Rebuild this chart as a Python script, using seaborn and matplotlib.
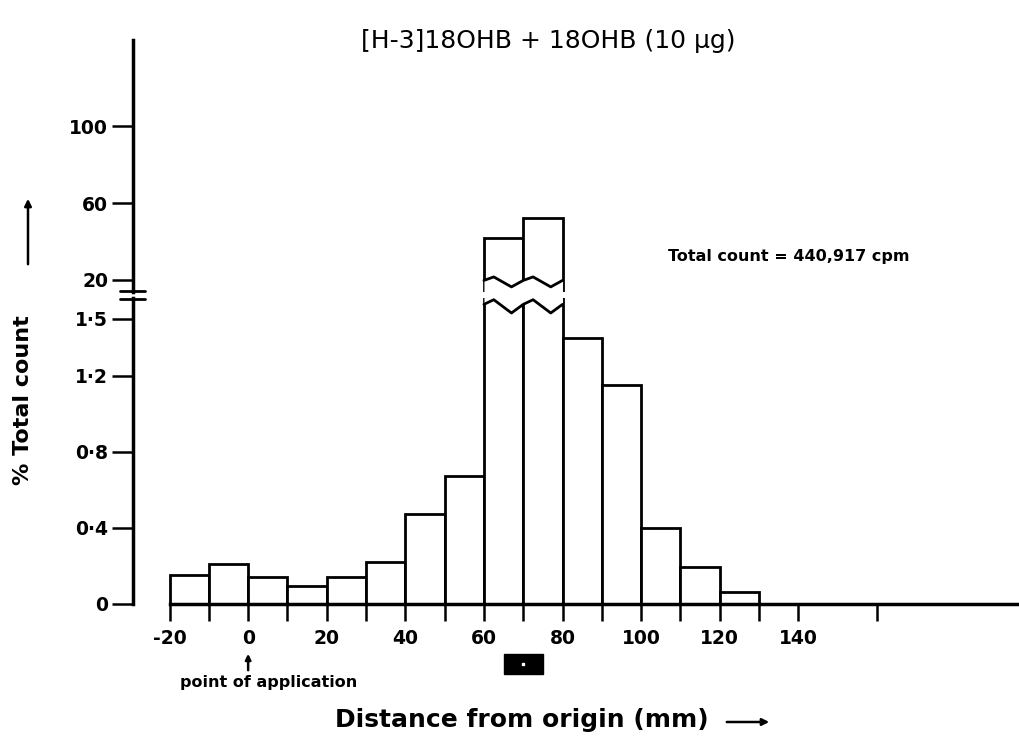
import numpy as np
import pandas as pd
import matplotlib
matplotlib.use("Agg")
import matplotlib.pyplot as plt
import matplotlib.transforms as mtransforms
from matplotlib.patches import Rectangle, FancyArrowPatch
from matplotlib.lines import Line2D
import seaborn as sns

# ---------------- data ----------------
bin_left = [-20, -10, 0, 10, 20, 30, 40, 50, 60, 70, 80, 90, 100, 110, 120]
pct_total = [0.15, 0.21, 0.14, 0.09, 0.14, 0.22, 0.47, 0.67,
             41.7, 52.5, 1.40, 1.15, 0.40, 0.19, 0.06]
bin_width = 10
broken_bins = [60, 70]

x_ticks = [-20, -10, 0, 10, 20, 30, 40, 50, 60, 70, 80, 90, 100, 110, 120, 130, 140, 160]
x_tick_labels = ["-20", "", "0", "", "20", "", "40", "", "60", "", "80", "",
                 "100", "", "120", "", "140", ""]
y_low_ticks = [0, 0.4, 0.8, 1.2, 1.5]
y_low_labels = ["0", "0·4", "0·8", "1·2", "1·5"]
y_up_ticks = [20, 60, 100]
y_up_labels = ["20", "60", "100"]

title = "[H-3]18OHB + 18OHB (10 µg)"
count_note = "Total count = 440,917 cpm"
x_label = "Distance from origin (mm)"
y_label = "% Total count"
origin_note = "point of application"
reference_spot = (65, 75)   # mm, black marker under axis

# ---------------- style ----------------
sns.set_theme(style="ticks")
plt.rcParams["font.family"] = ["DejaVu Sans"]
for k in ("text.color", "axes.labelcolor", "xtick.color", "ytick.color", "axes.edgecolor"):
    plt.rcParams[k] = "black"

W, H = 1020, 737
fig = plt.figure(figsize=(W / 100, H / 100), dpi=100)

xlim = (-29.3, 196.4)
ax_low = fig.add_axes([133 / W, 133.5 / H, 1 - 133 / W, (603.5 - 298) / H])
ax_up = fig.add_axes([133 / W, (H - 291.7) / H, 1 - 133 / W, (291.7 - 40) / H])

df = pd.DataFrame({"mm": [b + bin_width / 2 for b in bin_left], "pct": pct_total})
edges = bin_left + [bin_left[-1] + bin_width]

for ax in (ax_low, ax_up):
    sns.histplot(data=df, x="mm", weights="pct", bins=edges, stat="count",
                 ax=ax, color="white", edgecolor="black", linewidth=2,
                 alpha=1, zorder=2)
    ax.set_xlim(*xlim)
    ax.set_xlabel("")
    ax.set_ylabel("")
    ax.set_facecolor("white")
    for s in ("top", "right"):
        ax.spines[s].set_visible(False)
    ax.spines["left"].set_linewidth(2.5)
    ax.spines["left"].set_color("black")

ax_low.set_ylim(0, 1.61)
ax_up.set_ylim(13.9, 145)

# zig-zag break on the truncated bars
frac = np.array([0, 0.25, 0.7, 1.0])
wob = np.array([0.3, 1, -1, 0.3])
xs = np.concatenate([b + frac * bin_width for b in broken_bins])
wobs = np.concatenate([wob for _ in broken_bins])
y_lo = 1.566 + 0.035 * wobs
ax_low.fill_between(xs, y_lo, 1.8, color="white", zorder=3, lw=0)
ax_low.plot(xs, y_lo, color="black", lw=2, zorder=4)
y_hi = 19.0 + 2.6 * wobs
ax_up.fill_between(xs, 0, y_hi, color="white", zorder=3, lw=0)
ax_up.plot(xs, y_hi, color="black", lw=2, zorder=4)

# axes / ticks
tick_font = dict(fontsize=13.5, fontweight="bold")
ax_low.spines["bottom"].set_bounds(-20, xlim[1])
ax_low.spines["bottom"].set_linewidth(2.5)
ax_low.spines["bottom"].set_color("black")
ax_low.set_xticks(x_ticks)
ax_low.set_xticklabels(x_tick_labels, **tick_font)
ax_low.tick_params(axis="x", direction="out", length=12, width=1.8, pad=6, colors="black")
ax_low.set_yticks(y_low_ticks)
ax_low.set_yticklabels(y_low_labels, **tick_font)
ax_low.tick_params(axis="y", direction="out", length=15, width=1.8, pad=3, colors="black")

ax_up.spines["bottom"].set_visible(False)
ax_up.tick_params(axis="x", bottom=False, labelbottom=False)
ax_up.set_yticks(y_up_ticks)
ax_up.set_yticklabels(y_up_labels, **tick_font)
ax_up.tick_params(axis="y", direction="out", length=15, width=1.8, pad=3, colors="black")
ax_up.patch.set_alpha(0)

# break marks on the y axis
for yp in (290.5, 298.5):
    fig.add_artist(Line2D([120 / W, 145 / W], [1 - yp / H] * 2,
                          transform=fig.transFigure, color="black", lw=2))

# texts
fig.text(548 / W, 1 - 41 / H, title, ha="center", va="center", fontsize=18)
fig.text(668 / W, 1 - 256 / H, count_note, ha="left", va="center",
         fontsize=11.5, fontweight="bold")
fig.text(23 / W, 1 - 400 / H, y_label, rotation=90, ha="center", va="center",
         fontsize=16, fontweight="bold")
fig.add_artist(FancyArrowPatch(
    (28 / W, 1 - 267 / H), (28 / W, 1 - 196 / H), transform=fig.transFigure,
    arrowstyle="-|>", mutation_scale=10, lw=1.8, color="black"))

fig.text(335 / W, 1 - 720 / H, x_label, ha="left", va="center",
         fontsize=18, fontweight="bold")
fig.add_artist(FancyArrowPatch(
    (724 / W, 1 - 722 / H), (772 / W, 1 - 722 / H), transform=fig.transFigure,
    arrowstyle="-|>", mutation_scale=10, lw=1.8, color="black"))

blend = mtransforms.blended_transform_factory(ax_low.transData, fig.transFigure)
ax_low.text(-17.3, 1 - 683 / H, origin_note, transform=blend, ha="left",
            va="center", fontsize=11.5, fontweight="bold", clip_on=False)
ax_low.annotate("", xy=(0, 1 - 651 / H), xytext=(0, 1 - 673 / H),
                xycoords=blend, textcoords=blend,
                arrowprops=dict(arrowstyle="-|>", lw=1.8, color="black",
                                mutation_scale=8), annotation_clip=False)

ax_low.add_patch(Rectangle((reference_spot[0], 1 - 674 / H),
                           reference_spot[1] - reference_spot[0], 20 / H,
                           transform=blend, facecolor="black", edgecolor="black",
                           clip_on=False))
ax_low.plot([(reference_spot[0] + reference_spot[1]) / 2], [1 - 664 / H],
            marker="s", ms=2, color="white", transform=blend, clip_on=False)

fig.savefig("out.png", dpi=100, facecolor="white")
